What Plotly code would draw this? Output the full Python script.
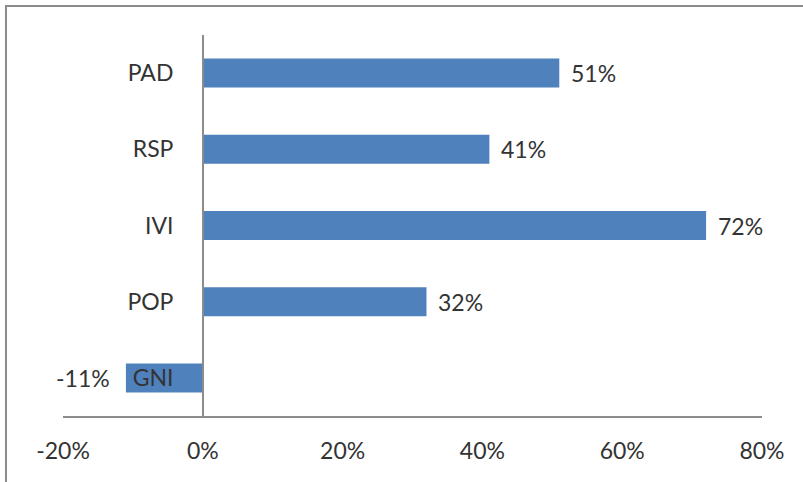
import plotly.graph_objects as go

# Indicator categories (top to bottom) and their percentage values
categories = ["PAD", "RSP", "IVI", "POP", "GNI"]
values = [51, 41, 72, 32, -11]

# Value-axis ticks
x_ticks = [-20, 0, 20, 40, 60, 80]
x_tick_labels = ["-20%", "0%", "20%", "40%", "60%", "80%"]

W, H = 803, 482
L, R, T, B = 63, 41, 35, 66
plot_w = W - L - R
plot_h = H - T - B

BAR = "#4F81BD"
TXT = "#333333"
AXIS = "#8c8c8c"
FONT = "Lato, 'Open Sans', sans-serif"
FS = 23

x_min, x_max = x_ticks[0], x_ticks[-1]

fig = go.Figure()
fig.add_trace(go.Bar(
    x=values,
    y=categories,
    orientation="h",
    marker=dict(color=BAR, line=dict(width=0)),
    width=0.38,
    hoverinfo="skip",
))

# Value labels beside each bar end
for cat, v in zip(categories, values):
    fig.add_annotation(
        x=v, y=cat, xref="x", yref="y",
        text=f"{v}%",
        showarrow=False,
        xanchor="left" if v >= 0 else "right",
        xshift=10 if v >= 0 else -14,
        font=dict(family=FONT, size=FS, color=TXT),
    )

def px_x(p):
    return (p - L) / plot_w

def px_y(p):
    return (H - B - p) / plot_h

# Outer chart frame
fig.add_shape(
    type="rect", xref="paper", yref="paper",
    x0=px_x(6), x1=px_x(808), y0=px_y(488), y1=px_y(6),
    line=dict(color=AXIS, width=2), fillcolor="rgba(0,0,0,0)", layer="below",
)

fig.update_layout(
    width=W, height=H,
    margin=dict(l=L, r=R, t=T, b=B),
    paper_bgcolor="white",
    plot_bgcolor="white",
    showlegend=False,
    font=dict(family=FONT, size=FS, color=TXT),
    xaxis=dict(
        range=[x_min, x_max],
        tickvals=x_ticks,
        ticktext=x_tick_labels,
        showgrid=False,
        zeroline=False,
        showline=True,
        linecolor=AXIS,
        linewidth=1.5,
        ticks="",
        ticklabelstandoff=14,
        tickfont=dict(family=FONT, size=FS, color=TXT),
        fixedrange=True,
    ),
    yaxis=dict(
        categoryorder="array",
        categoryarray=categories[::-1],
        anchor="free",
        position=(0 - x_min) / (x_max - x_min),
        showgrid=False,
        zeroline=False,
        showline=True,
        linecolor=AXIS,
        linewidth=1.5,
        ticks="",
        ticklabelstandoff=24,
        tickfont=dict(family=FONT, size=FS, color=TXT),
        fixedrange=True,
    ),
)

fig.write_html("out.html")
